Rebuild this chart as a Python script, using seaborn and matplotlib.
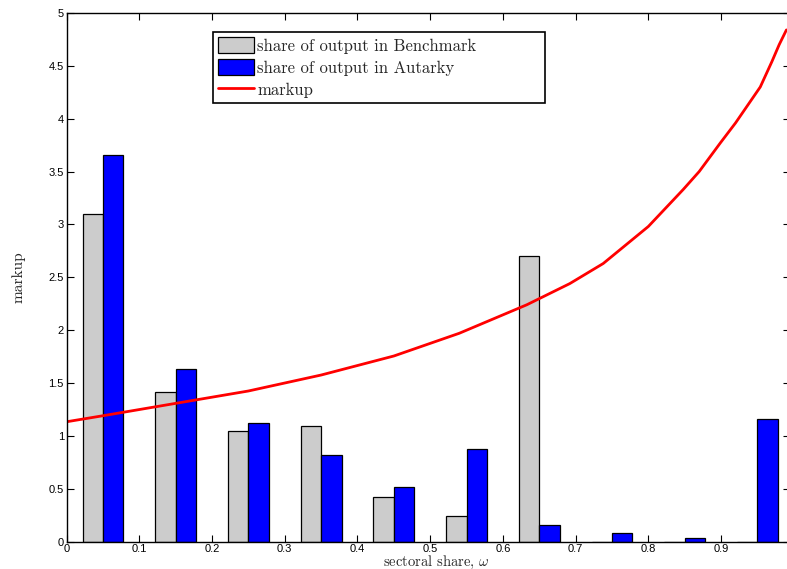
import numpy as np
import pandas as pd
import matplotlib
matplotlib.use("Agg")
import matplotlib.pyplot as plt
import seaborn as sns
from matplotlib.patches import Patch
from matplotlib.lines import Line2D

# bar data: sector bins (centres) and output shares
bins = [0.05, 0.15, 0.25, 0.35, 0.45, 0.55, 0.65, 0.75, 0.85, 0.95]
benchmark = [3.096, 1.417, 1.048, 1.096, 0.418, 0.238, 2.70, 0.0, 0.0, 0.0]
autarky = [3.654, 1.629, 1.118, 0.815, 0.513, 0.872, 0.153, 0.080, 0.036, 1.156]

# markup curve
omega = [0.0, 0.05, 0.15, 0.25, 0.35, 0.45, 0.54, 0.633, 0.692, 0.738,
         0.80, 0.848, 0.87, 0.899, 0.92, 0.954, 0.97, 0.98, 0.99]
markup = [1.133, 1.19, 1.307, 1.424, 1.575, 1.755, 1.97, 2.24, 2.44, 2.63,
          2.98, 3.33, 3.50, 3.77, 3.96, 4.30, 4.54, 4.70, 4.84]

labels = ["share of output in Benchmark", "share of output in Autarky", "markup"]
grey = "#cccccc"
blue = "#0000ff"

df = pd.DataFrame({
    "omega": bins * 2,
    "share": benchmark + autarky,
    "series": [labels[0]] * len(bins) + [labels[1]] * len(bins),
})

sns.set_style("ticks")
plt.rcParams["mathtext.fontset"] = "cm"
plt.rcParams["axes.unicode_minus"] = False

W, H = 787, 569
ax_w = 0.995 * 727
fig = plt.figure(figsize=(7.87, 5.69), dpi=100)
ax = fig.add_axes([66.7 / W, 27.5 / H, ax_w / W, 528.5 / H])

sns.barplot(data=df, x="omega", y="share", hue="series", native_scale=True,
            palette=[grey, blue], saturation=1, width=0.56, dodge=True,
            edgecolor="black", linewidth=0.9, legend=False, ax=ax)
sns.lineplot(x=omega, y=markup, color="red", linewidth=2, ax=ax)

ax.set_xlim(0, 0.995)
ax.set_ylim(0, 5)
xt = np.round(np.arange(0, 1.0, 0.1), 1)
yt = np.arange(0, 5.01, 0.5)
ax.set_xticks(xt)
ax.set_xticklabels(["0"] + [f"{v:g}" for v in xt[1:]])
ax.set_yticks(yt)
ax.set_yticklabels([f"{v:g}" for v in yt])
ax.tick_params(direction="in", length=5, width=0.8, top=True, right=True,
               labelsize=8, colors="black", pad=2)
ax.tick_params(axis="x", pad=1.5)
for lab in ax.get_xticklabels() + ax.get_yticklabels():
    lab.set_family("Liberation Sans")
for sp in ax.spines.values():
    sp.set_visible(True)
    sp.set_linewidth(1.0)
    sp.set_color("black")

ax.set_xlabel(r"sectoral share, $\omega$", family="cmr10", fontsize=10.5)
ax.xaxis.set_label_coords((436 - 66.7) / ax_w, -(565.5 - 541.5) / 528.5)
ax.xaxis.label.set_va("baseline")
ax.set_ylabel("markup", family="cmr10", fontsize=11)
ax.yaxis.set_label_coords(-(66.7 - 26) / ax_w, 0.5)

handles = [Patch(facecolor=grey, edgecolor="black", linewidth=0.9),
           Patch(facecolor=blue, edgecolor="black", linewidth=0.9),
           Line2D([], [], color="red", linewidth=2)]
leg = fig.legend(handles, labels, loc="upper left", mode="expand",
                 bbox_to_anchor=(213 / W, 1 - 103 / H, 332 / W, 71 / H),
                 prop={"family": "cmr10", "size": 12},
                 frameon=True, fancybox=False, framealpha=1,
                 edgecolor="black", borderaxespad=0, handlelength=2.15,
                 handleheight=1.1, handletextpad=0.2, labelspacing=0.33,
                 borderpad=0.3)
leg.get_frame().set_linewidth(1.2)

fig.savefig("out.png", dpi=100)
